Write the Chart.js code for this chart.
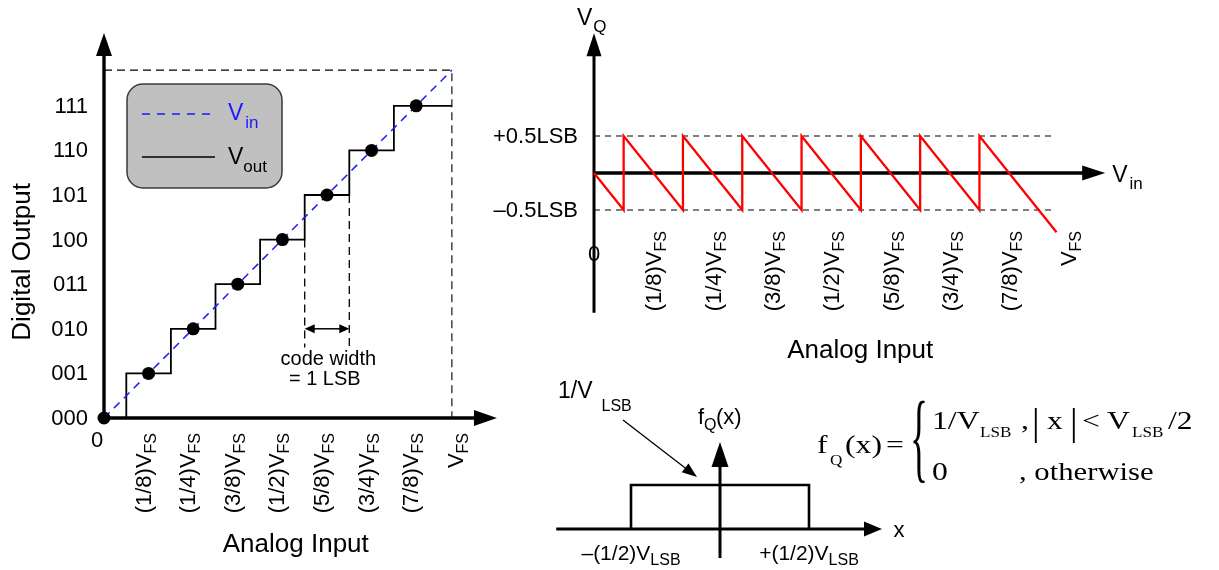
<!DOCTYPE html>
<html>
<head>
<meta charset="utf-8">
<title>ADC quantization</title>
<script src="https://cdn.jsdelivr.net/npm/chart.js@4.4.1/dist/chart.umd.min.js"></script>
<style>
  html, body { margin: 0; padding: 0; background: #fff; }
  #wrap { position: relative; width: 1219px; height: 570px; }
</style>
</head>
<body>
<div id="wrap"><canvas id="diagram" width="1219" height="570"></canvas></div>
<script>
const W = 1219, H = 570;
const SANS  = '"Liberation Sans", Arial, Helvetica, sans-serif';
const SERIF = '"Liberation Serif", "Times New Roman", Times, serif';

// ---- data: ideal 3-bit quantizer (x in LSB, VFS = 8 LSB) ----
const codeLabels     = ['000', '001', '010', '011', '100', '101', '110', '111'];
const codeValues     = [0, 1, 2, 3, 4, 5, 6, 7];
const inputFractions = ['(1/8)', '(1/4)', '(3/8)', '(1/2)', '(5/8)', '(3/4)', '(7/8)', ''];
const inputTicks     = [1, 2, 3, 4, 5, 6, 7, 8];
const fullScaleQ     = 7.8;                       // dashed VFS corner, as drawn
const vinX           = [0, 7.8];
const vinY           = [0, 7.8];
const stepX          = [0, 0.5, 1.5, 2.5, 3.5, 4.5, 5.5, 6.5, 7.8];
const stepCode       = [0, 1, 2, 3, 4, 5, 6, 7, 7];
const dotX           = [0, 1, 2, 3, 4, 5, 6, 7];
const dotCode        = [0, 1, 2, 3, 4, 5, 6, 7];
const codeWidthEdges = [4.5, 5.5];
const codeWidthTops  = [4, 5];
const codeWidthBottom = 1.58;
const codeWidthArrowY = 2;

// ---- data: quantization error V_Q ----
const errX = [0, 0.5, 0.5, 1.5, 1.5, 2.5, 2.5, 3.5, 3.5, 4.5, 4.5, 5.5, 5.5, 6.5, 6.5, 7.8];
const errY = [0, -0.5, 0.5, -0.5, 0.5, -0.5, 0.5, -0.5, 0.5, -0.5, 0.5, -0.5, 0.5, -0.5, 0.5, -0.8];
const errBounds      = [0.5, -0.5];
const errBoundLabels = ['+0.5LSB', '\u20130.5LSB'];
const errBoundEnd    = 7.75;

// ---- data: uniform pdf of the error ----
const pdfX = [-0.5, -0.5, 0.5, 0.5];
const pdfY = [0, 1, 1, 0];
const pdfEdges      = [-0.5, 0.5];
const pdfEdgeLabels = ['\u2013(1/2)V', '+(1/2)V'];

// panel origins (px) and px per unit
const PANEL = {
  q: { x0: 104, ux: 44.6, y0: 418, uy: 44.6 },
  e: { x0: 594, ux: 59.3, y0: 173, uy: 74 },
  p: { x0: 720, ux: 178,  y0: 529, uy: 44 },
};

function scalePair(k) {
  const p = PANEL[k];
  const base = { type: 'linear', display: false, bounds: 'data' };
  return {
    ['x' + k]: { ...base, min: -p.x0 / p.ux, max: (W - p.x0) / p.ux },
    ['y' + k]: { ...base, min: -(H - p.y0) / p.uy, max: p.y0 / p.uy },
  };
}

const pts = (xs, ys) => xs.map((x, i) => ({ x, y: ys[i] }));

function line(k, data, extra) {
  return Object.assign({
    data, xAxisID: 'x' + k, yAxisID: 'y' + k, showLine: true,
    borderColor: '#000', borderWidth: 1.2, pointRadius: 0, fill: false, clip: false,
  }, extra);
}

// ---- drawing helpers ----
const font = (size, fam) => `${size}px ${fam || SANS}`;

function arrow(ctx, x1, y1, x2, y2, lw, hl, hw, both) {
  const a = Math.atan2(y2 - y1, x2 - x1);
  const c = Math.cos(a), s = Math.sin(a);
  ctx.save();
  ctx.strokeStyle = ctx.fillStyle = '#000';
  ctx.lineWidth = lw;
  ctx.beginPath();
  ctx.moveTo(both ? x1 + c * hl * 0.8 : x1, both ? y1 + s * hl * 0.8 : y1);
  ctx.lineTo(x2 - c * hl * 0.8, y2 - s * hl * 0.8);
  ctx.stroke();
  const head = (x, y, ang) => {
    ctx.save();
    ctx.translate(x, y); ctx.rotate(ang);
    ctx.beginPath(); ctx.moveTo(0, 0); ctx.lineTo(-hl, -hw / 2); ctx.lineTo(-hl, hw / 2);
    ctx.closePath(); ctx.fill();
    ctx.restore();
  };
  head(x2, y2, a);
  if (both) head(x1, y1, a + Math.PI);
  ctx.restore();
}

// text with a subscript
function subText(ctx, x, y, main, sub, o) {
  o = Object.assign({ size: 22, subSize: 16, dy: 6, gap: 0, align: 'left', color: '#000' }, o);
  ctx.save();
  ctx.fillStyle = o.color;
  ctx.textAlign = 'left';
  ctx.textBaseline = 'alphabetic';
  ctx.font = font(o.size);
  const wm = ctx.measureText(main).width;
  ctx.font = font(o.subSize);
  const ws = ctx.measureText(sub).width;
  const total = wm + o.gap + ws;
  let sx = x;
  if (o.align === 'center') sx = x - total / 2;
  if (o.align === 'right') sx = x - total;
  ctx.font = font(o.size);
  ctx.fillText(main, sx, y);
  ctx.font = font(o.subSize);
  ctx.fillText(sub, sx + wm + o.gap, y + o.dy);
  ctx.restore();
}

// vertical tick label reading bottom-to-top, ending at topY
function rotLabel(ctx, cx, topY, main, sub) {
  ctx.save();
  ctx.translate(cx, topY);
  ctx.rotate(-Math.PI / 2);
  ctx.fillStyle = '#000';
  ctx.textAlign = 'left';
  ctx.textBaseline = 'alphabetic';
  ctx.font = font(16);
  const ws = ctx.measureText(sub).width;
  ctx.fillText(sub, -ws, 13);
  ctx.font = font(22);
  const wm = ctx.measureText(main).width;
  ctx.fillText(main, -ws - wm, 8);
  ctx.restore();
}

function serif(ctx, txt, x, y, size, sx, sy) {
  ctx.save();
  ctx.translate(x, y);
  ctx.scale(sx || 1.22, sy || 1);
  ctx.font = font(size, SERIF);
  ctx.fillStyle = '#000';
  ctx.textAlign = 'left';
  ctx.textBaseline = 'alphabetic';
  ctx.fillText(txt, 0, 0);
  ctx.restore();
}

function roundRect(ctx, x, y, w, h, r) {
  ctx.beginPath();
  ctx.moveTo(x + r, y);
  ctx.arcTo(x + w, y, x + w, y + h, r);
  ctx.arcTo(x + w, y + h, x, y + h, r);
  ctx.arcTo(x, y + h, x, y, r);
  ctx.arcTo(x, y, x + w, y, r);
  ctx.closePath();
}

const diagramPlugin = {
  id: 'diagram',
  beforeDatasetsDraw(chart) {
    const ctx = chart.ctx;
    const X = (k, v) => chart.scales['x' + k].getPixelForValue(v);
    const Y = (k, v) => chart.scales['y' + k].getPixelForValue(v);

    // legend box
    ctx.save();
    roundRect(ctx, 127, 84, 155, 104, 16);
    ctx.fillStyle = '#c0c0c0';
    ctx.fill();
    ctx.lineWidth = 1.5;
    ctx.strokeStyle = '#3a3a3a';
    ctx.stroke();
    ctx.restore();

    // axes
    arrow(ctx, X('q', 0), Y('q', 0), X('q', 0), Y('q', 8.63), 3.4, 23, 16);
    arrow(ctx, X('q', 0), Y('q', 0), X('q', 8.81), Y('q', 0), 3.4, 23, 16);
    arrow(ctx, X('e', 0), Y('e', -1.89), X('e', 0), Y('e', 1.89), 3, 23, 15);
    arrow(ctx, X('e', 0), Y('e', 0), X('e', 8.62), Y('e', 0), 3.4, 23, 15);
    arrow(ctx, X('p', -0.92), Y('p', 0), X('p', 0.91), Y('p', 0), 3, 18, 15);
    arrow(ctx, X('p', 0), Y('p', -0.66), X('p', 0), Y('p', 1.98), 3, 25, 17);
  },
  afterDatasetsDraw(chart) {
    const ctx = chart.ctx;
    const X = (k, v) => chart.scales['x' + k].getPixelForValue(v);
    const Y = (k, v) => chart.scales['y' + k].getPixelForValue(v);

    ctx.save();
    ctx.fillStyle = '#000';

    // ---------- left panel: quantizer transfer ----------
    ctx.font = font(22);
    ctx.textAlign = 'right';
    ctx.textBaseline = 'middle';
    codeValues.forEach((c, i) => ctx.fillText(codeLabels[i], X('q', 0) - 16, Y('q', c) + 1));
    ctx.textAlign = 'center';
    ctx.fillText('0', X('q', 0) - 7, Y('q', 0) + 23);

    inputTicks.forEach((t, i) => rotLabel(ctx, X('q', t) - 6, Y('q', 0) + 15, inputFractions[i] + 'V', 'FS'));

    ctx.font = font(26);
    ctx.textAlign = 'center';
    ctx.textBaseline = 'alphabetic';
    ctx.fillText('Analog Input', X('q', 4.3), Y('q', 0) + 134);

    ctx.save();
    ctx.translate(30, Y('q', 3.5));
    ctx.rotate(-Math.PI / 2);
    ctx.fillText('Digital Output', 0, 0);
    ctx.restore();

    // code width annotation
    arrow(ctx, X('q', codeWidthEdges[0]), Y('q', codeWidthArrowY), X('q', codeWidthEdges[1]), Y('q', codeWidthArrowY), 1.5, 10, 9, true);
    ctx.font = font(20);
    ctx.textAlign = 'center';
    ctx.fillText('code width', X('q', 5.03), Y('q', 0) - 53);
    ctx.fillText('= 1 LSB', X('q', 4.95), Y('q', 0) - 33);

    // legend contents
    ctx.save();
    ctx.lineWidth = 1.6;
    ctx.strokeStyle = '#1a1aff';
    ctx.setLineDash([8, 7]);
    ctx.beginPath(); ctx.moveTo(142, 114); ctx.lineTo(216, 114); ctx.stroke();
    ctx.setLineDash([]);
    ctx.strokeStyle = '#000';
    ctx.beginPath(); ctx.moveTo(142, 157); ctx.lineTo(215, 157); ctx.stroke();
    ctx.restore();
    subText(ctx, 228, 120, 'V', 'in', { size: 23, subSize: 17, dy: 8, gap: 2, color: '#1a1aff' });
    subText(ctx, 228, 164, 'V', 'out', { size: 23, subSize: 17, dy: 8, gap: 0 });

    // ---------- top right: quantization error ----------
    ctx.font = font(22);
    ctx.textAlign = 'right';
    ctx.textBaseline = 'middle';
    errBounds.forEach((b, i) => ctx.fillText(errBoundLabels[i], X('e', 0) - 16, Y('e', b) + 1));
    ctx.textAlign = 'center';
    ctx.fillText('0', X('e', 0), Y('e', -1.11));
    inputTicks.forEach((t, i) => rotLabel(ctx, X('e', t), Y('e', 0) + 58, inputFractions[i] + 'V', 'FS'));
    subText(ctx, X('e', 0) - 17, 25, 'V', 'Q', { size: 23, subSize: 17, dy: 7, gap: 1 });
    subText(ctx, X('e', 8.62) + 7, 182, 'V', 'in', { size: 23, subSize: 17, dy: 7, gap: 2 });
    ctx.font = font(26);
    ctx.textAlign = 'center';
    ctx.textBaseline = 'alphabetic';
    ctx.fillText('Analog Input', X('e', 4.49), Y('e', 0) + 185);

    // ---------- bottom right: pdf ----------
    pdfEdges.forEach((e, i) => subText(ctx, X('p', e), Y('p', 0) + 31, pdfEdgeLabels[i], 'LSB',
      { size: 21, subSize: 16, dy: 5, align: 'center' }));
    subText(ctx, X('p', 0) - 22, Y('p', 0) - 105, 'f', '', { size: 22 });
    subText(ctx, X('p', 0) - 22 + 6, Y('p', 0) - 105, '', 'Q', { size: 22, subSize: 16, dy: 6 });
    ctx.font = font(22);
    ctx.textAlign = 'left';
    ctx.fillText('(x)', X('p', 0) - 4, Y('p', 0) - 105);
    subText(ctx, 558, 398, '1/V', 'LSB', { size: 23, subSize: 16, dy: 13, gap: 9 });
    arrow(ctx, 623, 420, 697, 477, 1.3, 15, 11);
    ctx.font = font(22);
    ctx.textAlign = 'center';
    ctx.textBaseline = 'middle';
    ctx.fillText('x', X('p', 0.91) + 17, Y('p', 0) + 2);

    // formula
    serif(ctx, 'f', 817, 453, 26);
    serif(ctx, 'Q', 830, 465, 14);
    serif(ctx, '(x)', 845, 453, 26);
    serif(ctx, '=', 886, 453, 26);
    serif(ctx, '{', 910, 470, 30, 1.25, 3.3);
    serif(ctx, '1/V', 932, 429, 26);
    serif(ctx, 'LSB', 980, 437, 14);
    serif(ctx, ',', 1021, 429, 26);
    serif(ctx, '|', 1032, 435, 38, 1);
    serif(ctx, 'x', 1047, 429, 26);
    serif(ctx, '|', 1070, 435, 38, 1);
    serif(ctx, '<', 1082, 429, 26);
    serif(ctx, 'V', 1107, 429, 26);
    serif(ctx, 'LSB', 1132, 437, 14);
    serif(ctx, '/2', 1168, 429, 26);
    serif(ctx, '0', 932, 480, 26);
    serif(ctx, ', otherwise', 1019, 480, 26, 1.18);

    ctx.restore();
  },
};

const datasets = [
  // quantizer panel
  line('q', pts(dotX, dotCode), { showLine: false, pointRadius: 6.5, pointBackgroundColor: '#000', pointBorderWidth: 0, order: 0 }),
  line('q', pts(vinX, vinY), { borderColor: '#1a1aff', borderWidth: 1.5, borderDash: [8, 6], order: 1 }),
  line('q', pts(stepX, stepCode), { stepped: 'before', borderWidth: 1.8, order: 2 }),
  line('q', pts([0, fullScaleQ, fullScaleQ], [fullScaleQ, fullScaleQ, 0]), { borderDash: [8, 5], borderWidth: 1.1, order: 3 }),
  ...codeWidthEdges.map((e, i) => line('q', pts([e, e], [codeWidthTops[i], codeWidthBottom]),
    { borderDash: [8, 5], borderWidth: 1.3, order: 3 })),
  // error panel
  ...errBounds.map(b => line('e', pts([0, errBoundEnd], [b, b]), { borderDash: [6, 5], borderWidth: 1.1, order: 3 })),
  line('e', pts(errX, errY), { borderColor: '#ff0000', borderWidth: 2.3, order: 1 }),
  // pdf panel
  line('p', pts(pdfX, pdfY), { borderWidth: 2.6, order: 1 }),
];

new Chart(document.getElementById('diagram'), {
  type: 'scatter',
  data: { datasets },
  options: {
    responsive: false,
    devicePixelRatio: 1,
    animation: false,
    events: [],
    layout: { padding: 0, autoPadding: false },
    plugins: { legend: { display: false }, tooltip: { enabled: false } },
    scales: { ...scalePair('q'), ...scalePair('e'), ...scalePair('p') },
  },
  plugins: [diagramPlugin],
});
</script>
</body>
</html>
